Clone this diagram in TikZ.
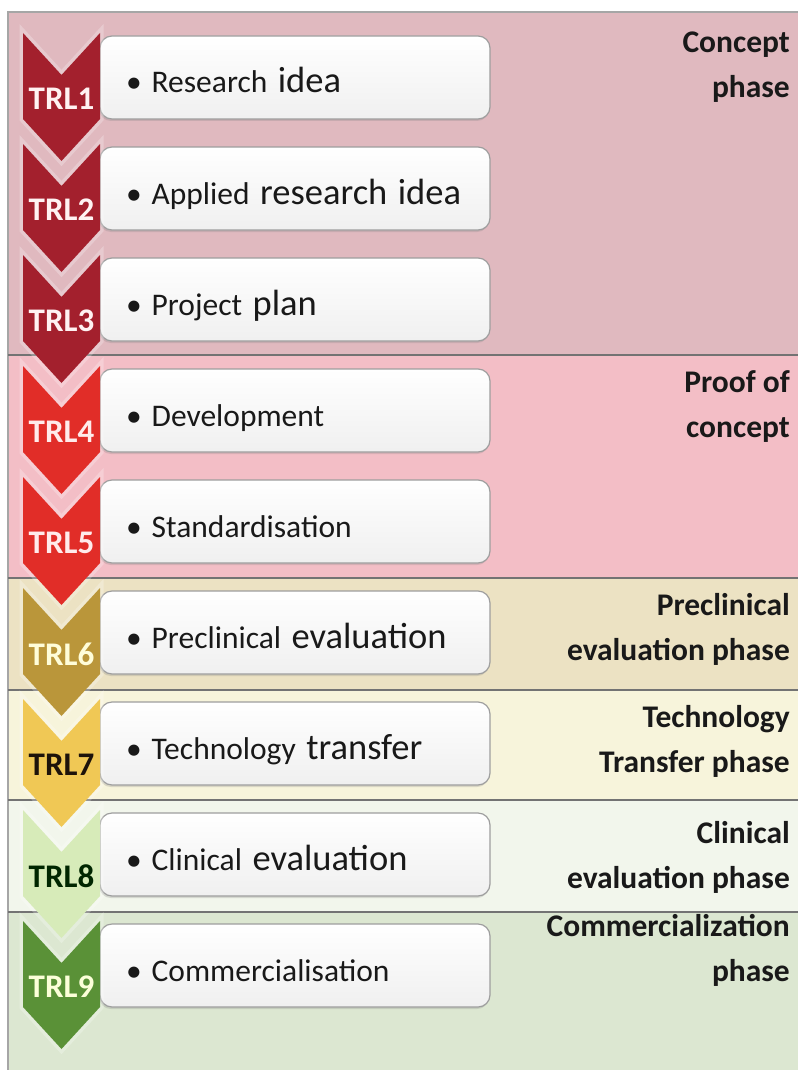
\documentclass[tikz,border=0pt]{standalone}
\usepackage{fontspec}
\setmainfont{Carlito}
\usetikzlibrary{shadows}
\definecolor{conceptbg}{HTML}{E0B9BF}
\definecolor{proofbg}{HTML}{F3BEC6}
\definecolor{preclinbg}{HTML}{ECE2C3}
\definecolor{transferbg}{HTML}{F7F4DB}
\definecolor{clinicbg}{HTML}{F2F6EC}
\definecolor{marketbg}{HTML}{DCE7D1}
\definecolor{trldark}{HTML}{A3202D}
\definecolor{trlred}{HTML}{E12D28}
\definecolor{trlgold}{HTML}{BA963A}
\definecolor{trlyellow}{HTML}{F0C855}
\definecolor{trlmint}{HTML}{D7EBB9}
\definecolor{trlgreen}{HTML}{5A9137}
\newcommand\bigword[1]{{\fontsize{36.5}{40}\selectfont #1}}

\begin{document}
\begin{tikzpicture}[x=1pt, y=-1pt,
    itembox/.style={draw=black!38, line width=1.2pt, rounded corners=12pt,
      top color=white, bottom color=black!6,
      drop shadow={shadow xshift=-1pt, shadow yshift=-2pt, opacity=0.25},
      minimum width=390pt, minimum height=83pt, text width=338pt, inner xsep=26pt,
      text height=31pt, text depth=0pt, align=left, text=black!90,
      font=\fontsize{31.5}{36}\selectfont},
    chevron/.style={preaction={draw=white, draw opacity=0.25, line width=7pt}},
    trltext/.style={font=\bfseries\fontsize{33}{36}\selectfont, inner sep=0pt},
    phaselabel/.style={anchor=base east, align=right, inner sep=0pt, text=black!90,
      font=\bfseries\fontsize{31.5}{45}\selectfont},
    bandline/.style={draw=black!55, line width=2.5pt}]
    \useasboundingbox (0,0) rectangle (798,1070);

    % Phase bands
    \fill[conceptbg] (8,12) rectangle (798,355);
    \fill[proofbg] (8,355) rectangle (798,578);
    \fill[preclinbg] (8,578) rectangle (798,690);
    \fill[transferbg] (8,690) rectangle (798,800);
    \fill[clinicbg] (8,800) rectangle (798,912);
    \fill[marketbg] (8,912) rectangle (798,1070);
    \draw[black!35, line width=1.5pt] (8,1070) -- (8,12) -- (798,12);
    \draw[bandline] (8,355) -- (798,355);
    \draw[bandline] (8,578) -- (798,578);
    \draw[bandline] (8,690) -- (798,690);
    \draw[bandline] (8,800) -- (798,800);
    \draw[bandline] (8,912) -- (798,912);

    % Phase labels (base = last line)
    \node[phaselabel] (concept) at (790,98) {Concept\\phase};
    \node[phaselabel] (proof) at (790,437) {Proof of\\concept};
    \node[phaselabel] (preclin) at (790,660) {Preclinical\\evaluation phase};
    \node[phaselabel] (transfer) at (790,772) {Technology\\Transfer phase};
    \node[phaselabel] (clinic) at (790,888) {Clinical\\evaluation phase};
    \node[phaselabel] (market) at (790,981) {Commercialization\\phase};

    % Item boxes
    \node[itembox] (box1) at (295,77.5) {\textbullet\hspace{10pt}Research \bigword{idea}};
    \node[itembox] (box2) at (295,188.5) {\textbullet\hspace{10pt}Applied \bigword{research idea}};
    \node[itembox] (box3) at (295,299.5) {\textbullet\hspace{10pt}Project \bigword{plan}};
    \node[itembox] (box4) at (295,410.5) {\textbullet\hspace{10pt}Development};
    \node[itembox] (box5) at (295,521.5) {\textbullet\hspace{10pt}Standardisation};
    \node[itembox] (box6) at (295,632.5) {\textbullet\hspace{10pt}Preclinical \bigword{evaluation}};
    \node[itembox] (box7) at (295,743.5) {\textbullet\hspace{10pt}Technology \bigword{transfer}};
    \node[itembox] (box8) at (295,854.5) {\textbullet\hspace{10pt}Clinical \bigword{evaluation}};
    \node[itembox] (box9) at (295,965.5) {\textbullet\hspace{10pt}Commercialisation};

    % TRL chevrons
    \fill[chevron, trldark] (23,33) -- (61.5,75) -- (100,33) -- (100,119) -- (61.5,161) -- (23,119) -- cycle;
    \fill[chevron, trldark] (23,144) -- (61.5,186) -- (100,144) -- (100,230) -- (61.5,272) -- (23,230) -- cycle;
    \fill[chevron, trldark] (23,255) -- (61.5,297) -- (100,255) -- (100,341) -- (61.5,383) -- (23,341) -- cycle;
    \fill[chevron, trlred] (23,366) -- (61.5,408) -- (100,366) -- (100,452) -- (61.5,494) -- (23,452) -- cycle;
    \fill[chevron, trlred] (23,477) -- (61.5,519) -- (100,477) -- (100,563) -- (61.5,605) -- (23,563) -- cycle;
    \fill[chevron, trlgold] (23,588) -- (61.5,630) -- (100,588) -- (100,674) -- (61.5,716) -- (23,674) -- cycle;
    \fill[chevron, trlyellow] (23,699) -- (61.5,741) -- (100,699) -- (100,785) -- (61.5,827) -- (23,785) -- cycle;
    \fill[chevron, trlmint] (23,810) -- (61.5,852) -- (100,810) -- (100,896) -- (61.5,938) -- (23,896) -- cycle;
    \fill[chevron, trlgreen] (23,921) -- (61.5,963) -- (100,921) -- (100,1007) -- (61.5,1049) -- (23,1007) -- cycle;

    % TRL labels
    \node[trltext, text=white!95!red] (trl1) at (61.5,99) {TRL1};
    \node[trltext, text=white!95!red] (trl2) at (61.5,210) {TRL2};
    \node[trltext, text=white!95!red] (trl3) at (61.5,321) {TRL3};
    \node[trltext, text=white!92!red] (trl4) at (61.5,432) {TRL4};
    \node[trltext, text=white!92!red] (trl5) at (61.5,543) {TRL5};
    \node[trltext, text=yellow!15] (trl6) at (61.5,654) {TRL6};
    \node[trltext, text=black!85!brown] (trl7) at (61.5,765) {TRL7};
    \node[trltext, text=black!85!green] (trl8) at (61.5,876) {TRL8};
    \node[trltext, text=green!8!yellow!15] (trl9) at (61.5,987) {TRL9};
  \end{tikzpicture}
\end{document}
